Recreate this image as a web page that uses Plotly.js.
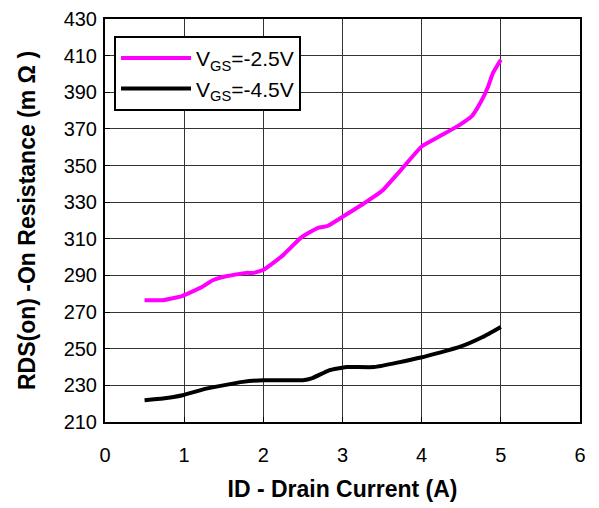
<!DOCTYPE html>
<html>
<head>
<meta charset="utf-8">
<script src="https://cdn.plot.ly/plotly-3.0.1.min.js"></script>
<style>html,body{margin:0;padding:0;background:#fff;}#chart{width:599px;height:508px;}</style>
</head>
<body>
<div id="chart"></div>
<script>
const idA_25 = [0.5, 0.73, 0.98, 1.23, 1.36, 1.53, 1.78, 1.88, 2.01, 2.25, 2.48, 2.69, 2.81, 3.0, 3.26, 3.5, 3.72, 4.0, 4.22, 4.48, 4.63, 4.75, 4.84, 4.9, 5.0];
const rds_25 = [276.5, 276.5, 278.9, 283.8, 287.4, 289.6, 291.4, 291.4, 293.3, 301.1, 310.8, 316, 317, 322, 329, 336.2, 346.7, 360.4, 365.8, 372.2, 376.8, 385, 393.2, 400.5, 407.8];
const idA_45 = [0.5, 0.73, 0.98, 1.28, 1.74, 2.0, 2.5, 2.62, 2.83, 3.05, 3.4, 3.99, 4.48, 4.77, 5.0];
const rds_45 = [221.9, 222.8, 224.6, 228.2, 231.9, 232.8, 232.8, 234, 238.2, 240, 240, 245.2, 251, 256.4, 261.9];
const seriesNames = ['V<sub>GS</sub>=-2.5V', 'V<sub>GS</sub>=-4.5V'];
const xTicks = [0, 1, 2, 3, 4, 5, 6];
const yTicks = [210, 230, 250, 270, 290, 310, 330, 350, 370, 390, 410, 430];

const FONT = 'Liberation Sans, Arial, sans-serif';
const traces = [
  {x: idA_25, y: rds_25, name: seriesNames[0], mode: 'lines', line: {color: '#FF00FF', width: 4, shape: 'spline', smoothing: 0.4}},
  {x: idA_45, y: rds_45, name: seriesNames[1], mode: 'lines', line: {color: '#000000', width: 4, shape: 'spline', smoothing: 0.4}}
];
const axisCommon = {
  showgrid: true, gridcolor: '#333333', gridwidth: 1,
  showline: true, linecolor: '#000', linewidth: 2, mirror: true,
  ticks: 'inside', ticklen: 5, tickcolor: '#000',
  zeroline: false,
  tickfont: {family: FONT, size: 20, color: '#000'}
};
const layout = {
  width: 599, height: 508,
  margin: {l: 105, r: 19, t: 19, b: 86},
  paper_bgcolor: '#fff', plot_bgcolor: '#fff',
  showlegend: true,
  legend: {x: 0.019, y: 0.958, xanchor: 'left', yanchor: 'top', bgcolor: '#fff', bordercolor: '#000', borderwidth: 2,
           itemwidth: 70,
           font: {family: FONT, size: 21, color: '#000'}},
  xaxis: Object.assign({}, axisCommon, {range: [0, 6], tickvals: xTicks, ticktext: xTicks.map(String),
    ticklabelstandoff: 14,
    title: {text: 'ID - Drain Current (A)', standoff: 16, font: {family: FONT, size: 23, color: '#000', weight: 'bold'}}}),
  yaxis: Object.assign({}, axisCommon, {range: [210, 430], tickvals: yTicks, ticktext: yTicks.map(String),
    ticklabelstandoff: 2,
    title: {text: 'RDS(on) -On Resistance (m Ω )', standoff: 22, font: {family: FONT, size: 23, color: '#000', weight: 'bold'}}})
};
Plotly.newPlot('chart', traces, layout, {staticPlot: true, displayModeBar: false});
</script>
</body>
</html>
